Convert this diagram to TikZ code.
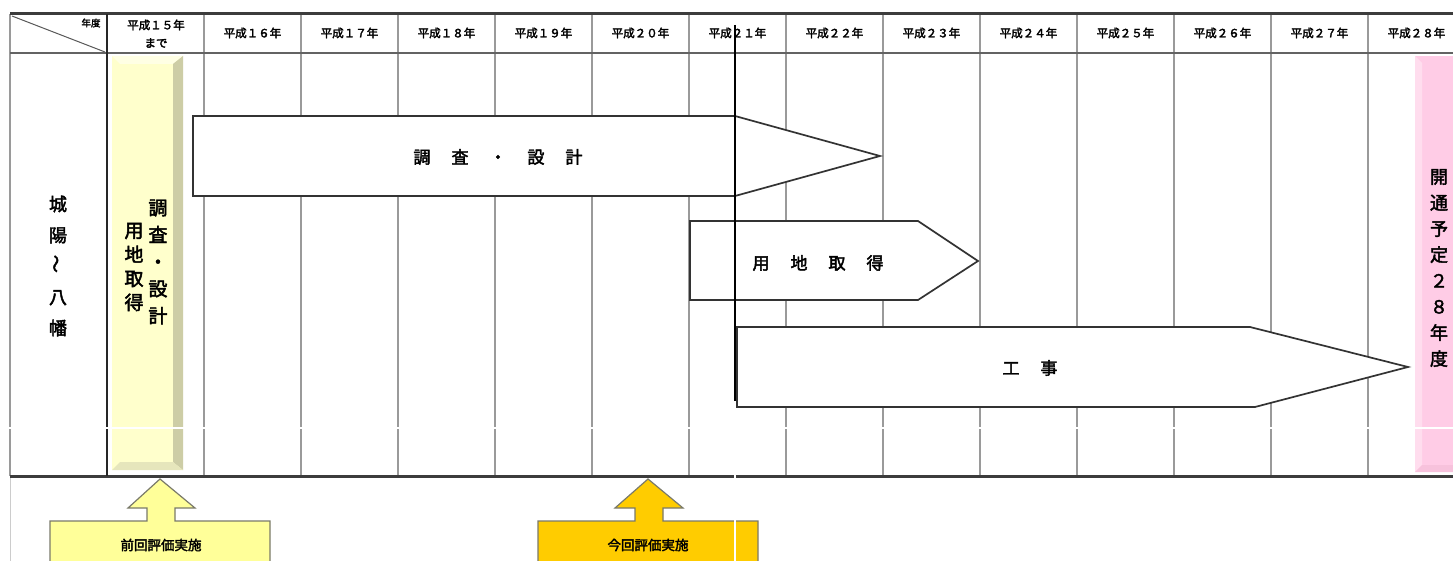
\documentclass[tikz,border=0pt]{standalone}
\usepackage{fontspec}
\setmainfont{Noto Sans CJK JP}[FakeBold=2.4]
\definecolor{gridgray}{HTML}{9A9A9A}
\definecolor{heavygray}{HTML}{3C3C3C}
\definecolor{arrowline}{HTML}{333333}
\definecolor{ylbase}{HTML}{FFFFCC}
\definecolor{yltop}{HTML}{FFFFE4}
\definecolor{ylright}{HTML}{CDCDA6}
\definecolor{ylbottom}{HTML}{E6E6BC}
\definecolor{pkbase}{HTML}{FFCCE6}
\definecolor{pkleft}{HTML}{FFDDEE}
\definecolor{pkbottom}{HTML}{F7C2DC}
\definecolor{prevfill}{HTML}{FFFF99}
\definecolor{currfill}{HTML}{FFCC00}
\definecolor{boxline}{HTML}{7A7A6A}
\tikzset{
  gridline/.style={draw=gridgray, line width=1.6pt},
  heavyline/.style={draw=heavygray, line width=3pt},
  arrowbox/.style={draw=arrowline, line width=1.7pt, fill=white, line join=miter},
  hdr/.style={font=\fontsize{11.5}{13}\selectfont, inner sep=0pt, text=black},
  bigtxt/.style={font=\fontsize{17}{20}\selectfont, inner sep=0pt, text=black},
  vtext/.style={align=center, inner sep=0pt, text=black},
  evalbox/.style={draw=boxline, line width=1.2pt},
  evaltxt/.style={font=\fontsize{13.5}{15}\selectfont, inner sep=0pt, text=black},
  seam/.style={draw=white, line width=2pt}
}
\begin{document}
\begin{tikzpicture}[x=1pt,y=-1pt]
\useasboundingbox (0,0) rectangle (1453,561);
\fill[white] (0,0) rectangle (1453,561);

% yellow column (bevelled)
\fill[ylbase] (112,56) rectangle (183,470);
\fill[yltop] (112,56) -- (183,56) -- (173,64) -- (120,64) -- cycle;
\fill[ylright] (183,56) -- (183,470) -- (173,462) -- (173,64) -- cycle;
\fill[ylbottom] (112,470) -- (183,470) -- (173,462) -- (120,462) -- cycle;

% pink column
\fill[pkbase] (1415,56) rectangle (1453,472);
\fill[pkleft] (1415,56) -- (1422,63) -- (1422,465) -- (1415,472) -- cycle;
\fill[pkbottom] (1415,472) -- (1422,465) -- (1453,465) -- (1453,472) -- cycle;

% grid
\foreach \i in {1,...,13} \draw[gridline] ({107+97*\i},14) -- ({107+97*\i},476);
\draw[draw=gridgray, line width=1.2pt] (10,14) -- (10,476);
\draw[draw=gray!40, line width=1pt] (10,476) -- (10,561);
\draw[heavyline] (10,14) -- (1453,14);
\draw[draw=heavygray!80, line width=2.6pt] (10,53) -- (1453,53);
\draw[heavyline] (10,476) -- (1453,476);
\draw[draw=black!85, line width=2.4pt] (107,14) -- (107,476);
\draw[draw=gray!70!black, line width=1pt] (12,16) -- (105,52);

% header
\node[hdr, font=\fontsize{9.5}{11}\selectfont] (nendo) at (91,23) {年度};
\node[hdr] (h15a) at (156,25) {平成１５年};
\node[hdr] (h15b) at (156,43) {まで};
\foreach \k/\yr in {1/１６,2/１７,3/１８,4/１９,5/２０,6/２１,7/２２,8/２３,9/２４,10/２５,11/２６,12/２７,13/２８}
  \node[hdr] (hd\k) at ({155.5+97*\k},33) {平成{\yr}年};

% arrows
\draw[arrowbox] (193,116) -- (735,116) -- (880,156) -- (735,196) -- (193,196) -- cycle;
\node[bigtxt] (chosa) at (498,157) {調\hspace{21pt}査\hspace{21pt}・\hspace{21pt}設\hspace{21pt}計};
\draw[arrowbox] (690,221) -- (918,221) -- (978,261) -- (918,300) -- (690,300) -- cycle;
\node[bigtxt] (yochi) at (818,263) {用\hspace{21pt}地\hspace{21pt}取\hspace{21pt}得};
\draw[arrowbox] (737,327) -- (1250,327) -- (1408,367) -- (1255,407) -- (737,407) -- cycle;
\node[bigtxt] (koji) at (1030,368) {工\hspace{21pt}事};

% vertical texts
\node[vtext, font=\fontsize{18}{31}\selectfont] (route) at (58,266) {城\\陽\\\rotatebox{90}{～}\\八\\幡};
\node[vtext, font=\fontsize{19}{27}\selectfont] (ychosa) at (158,262) {調\\査\\・\\設\\計};
\node[vtext, font=\fontsize{19}{24}\selectfont] (yyochi) at (134,267) {用\\地\\取\\得};
\node[vtext, font=\fontsize{18}{26}\selectfont] (kaitsu) at (1439,268) {開\\通\\予\\定\\２\\８\\年\\度};

% black vertical line
\draw[draw=black, line width=2.4pt] (735,25) -- (735,401);

% evaluation markers
\draw[evalbox, fill=prevfill] (50,566) -- (50,521) -- (147,521) -- (147,508) -- (128,508) -- (160,479) -- (195,508) -- (175,508) -- (175,521) -- (270,521) -- (270,566);
\node[evaltxt] (prev) at (161,545) {前回評価実施};
\draw[evalbox, fill=currfill] (538,566) -- (538,521) -- (635,521) -- (635,508) -- (615,508) -- (648,479) -- (683,508) -- (663,508) -- (663,521) -- (758,521) -- (758,566);
\node[evaltxt] (curr) at (648,545) {今回評価実施};

% seams
\draw[seam] (8,428) -- (1453,428);
\draw[seam] (735,404) -- (735,561);
\end{tikzpicture}
\end{document}
